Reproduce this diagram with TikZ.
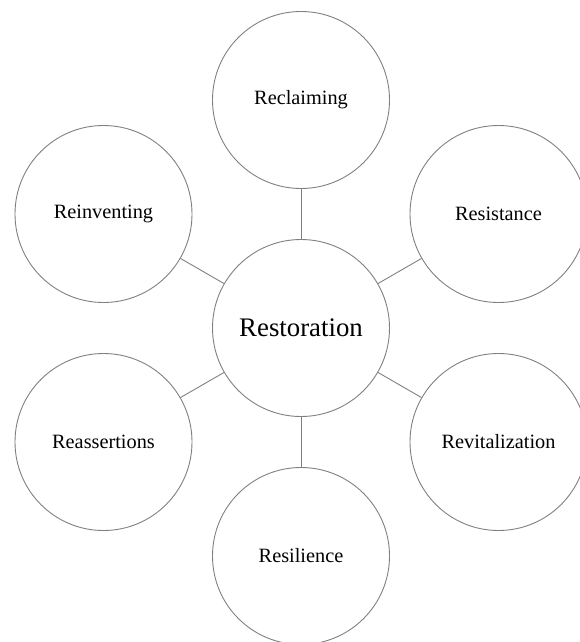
\documentclass[tikz,border=0pt]{standalone}
\usepackage{fontspec}
\setmainfont{Liberation Serif}
\definecolor{ringgray}{RGB}{128,128,128}
\tikzset{
  outer/.style={circle, draw=ringgray, line width=0.9pt, minimum size=177pt, inner sep=0pt, font=\fontsize{20.3}{24}\selectfont},
  hub/.style={circle, draw=ringgray, line width=0.9pt, minimum size=177pt, inner sep=0pt, font=\fontsize{26.8}{30}\selectfont},
  link/.style={draw=ringgray, line width=0.9pt}
}
\begin{document}
\begin{tikzpicture}[x=1pt,y=-1pt]
\useasboundingbox (0,0) rectangle (579,642);
\node[hub] (c) at (301,328) {Restoration};
\node[outer] (top) at (301,100) {Reclaiming};
\node[outer] (rt) at (498.5,214) {Resistance};
\node[outer] (rb) at (498.5,442) {Revitalization};
\node[outer] (bot) at (301,556) {Resilience};
\node[outer] (lb) at (103.5,442) {Reassertions};
\node[outer] (lt) at (103.5,214) {Reinventing};
\foreach \n in {top,rt,rb,bot,lb,lt} \draw[link] (c) -- (\n);
\end{tikzpicture}
\end{document}
